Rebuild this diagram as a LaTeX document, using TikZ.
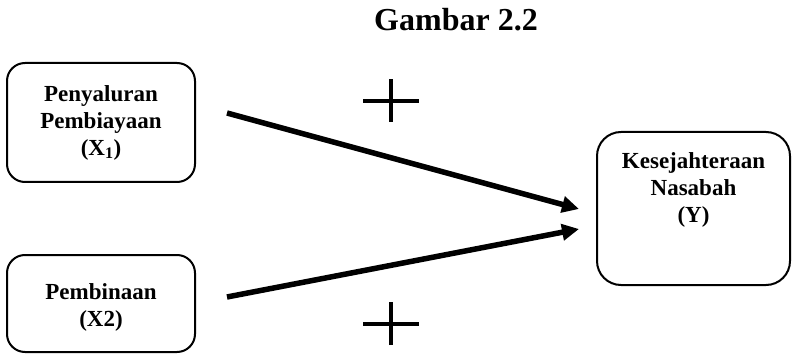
\documentclass[tikz,border=0pt]{standalone}
\usepackage{fontspec}
\setmainfont{Liberation Serif}
\usetikzlibrary{arrows.meta}
\begin{document}
\begin{tikzpicture}[x=1pt,y=-1pt,
  box/.style={draw,line width=2pt,rounded corners=18pt,inner sep=0pt},
  boxtext/.style={align=center,font=\fontsize{23}{27}\selectfont\bfseries,inner sep=0pt},
  conn/.style={line width=5.5pt,-{Triangle[length=17pt,width=16pt]}},
  plus/.style={line width=3.2pt}]
\useasboundingbox (0,0) rectangle (794,355);
\node[font=\fontsize{32}{36}\selectfont\bfseries] (title) at (456,20) {Gambar 2.2};
\node[box,minimum width=188pt,minimum height=119pt] (b1) at (101,122.5) {};
\node[boxtext] (t1) at (b1.center) {Penyaluran\\Pembiayaan\\(X\textsubscript{1})};
\node[box,minimum width=188pt,minimum height=97pt] (b2) at (101,303.5) {};
\node[boxtext] (t2) at ([yshift=-4pt]b2.center) {Pembinaan\\(X2)};
\node[box,minimum width=193pt,minimum height=153pt,rounded corners=24pt] (b3) at (693.5,208.5) {};
\node[boxtext,anchor=north] (t3) at (693.5,152) {Kesejahteraan\\Nasabah\\(Y)};
\coordinate (s1) at (227,113);
\coordinate (e1) at (579,209);
\coordinate (s2) at (227,297);
\coordinate (e2) at (579,229);
\draw[conn] (s1) -- (e1);
\draw[conn] (s2) -- (e2);
\coordinate (p1) at (391,101);
\coordinate (p2) at (391,324);
\draw[plus] ([xshift=-28pt]p1) -- ([xshift=28pt]p1) ([yshift=-21pt]p1) -- ([yshift=22pt]p1);
\draw[plus] ([xshift=-28pt]p2) -- ([xshift=28pt]p2) ([yshift=-21pt]p2) -- ([yshift=22pt]p2);
\end{tikzpicture}
\end{document}
